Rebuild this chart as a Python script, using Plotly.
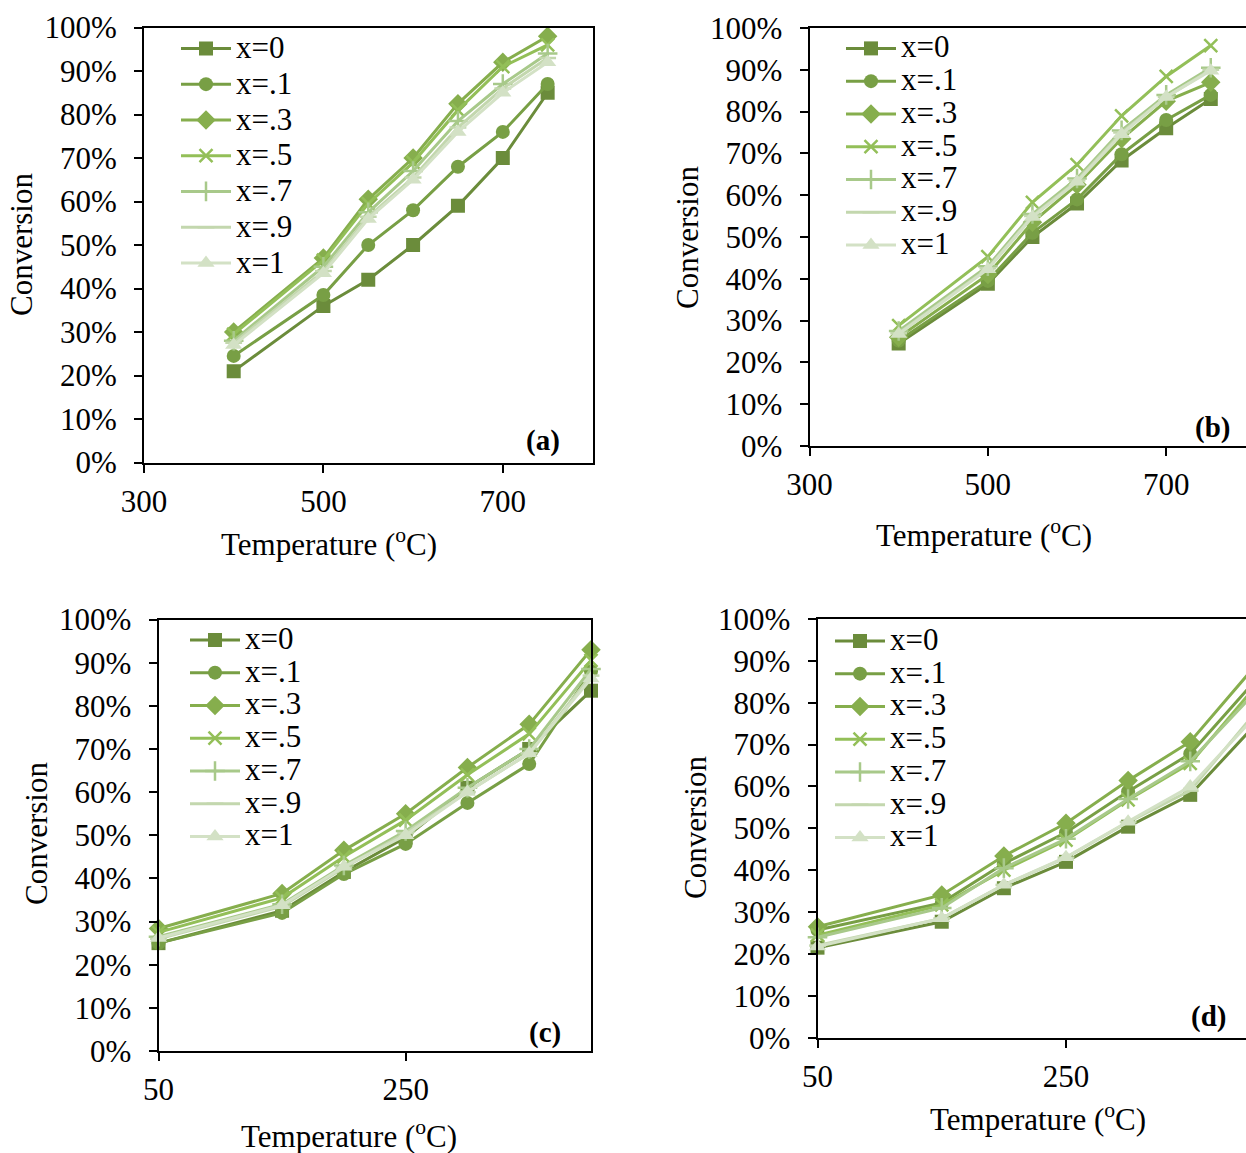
import plotly.graph_objects as go

# Canvas size in pixels
W, H = 1246, 1153

# Series (catalyst composition x)
series_names = ["x=0", "x=.1", "x=.3", "x=.5", "x=.7", "x=.9", "x=1"]
colors = ["#6B8C3B", "#789F45", "#86AE4D", "#93BF58", "#A8C98A", "#C3D7AE", "#D3E1C5"]
symbols = ["square", "circle", "diamond", "x-thin", "cross-thin", "line-ew", "triangle-up"]
marker_sizes = [14, 14, 15, 13, 14, 12, 15]

# Temperatures (°C)
temp_ab = [400, 500, 550, 600, 650, 700, 750]
temp_cd = [50, 150, 200, 250, 300, 350, 400]

# Conversion (%) for each panel, one row per series
conv_a = [
    [21, 36, 42, 50, 59, 70, 85],
    [24.5, 38.5, 50, 58, 68, 76, 87],
    [30, 47, 60.5, 70, 82.5, 92, 98],
    [29.5, 46.5, 59.5, 69, 81, 91, 96],
    [28, 45, 57.5, 67, 78.5, 87, 94],
    [27.5, 44, 56.5, 65.5, 77, 86, 93],
    [27, 43.5, 56, 65, 76, 85, 92],
]
conv_b = [
    [24.5, 38.8, 50, 58, 68.3, 76, 83],
    [25.2, 39.5, 51, 59, 69.8, 78, 84],
    [26, 41, 53.5, 62.5, 73.5, 82.5, 87],
    [28.8, 45.3, 58.3, 67.3, 79, 88.4, 95.8],
    [27.5, 43, 55.5, 64, 75.5, 84, 90.5],
    [27, 42.5, 55, 63.5, 75, 83.5, 90],
    [26.8, 42.3, 54.8, 63.2, 74.6, 83.5, 89.8],
]
conv_c = [
    [25, 32.5, 41.5, 49.5, 61, 70, 83.5],
    [25, 32, 41, 48, 57.5, 66.5, 88],
    [28.4, 36.5, 46.5, 55, 65.7, 75.7, 93],
    [27.5, 35.5, 45, 53.5, 64, 73.5, 90.5],
    [26.5, 34, 43, 51, 61, 70, 88.5],
    [26, 33.5, 42.5, 50.5, 60, 69, 87],
    [26.2, 33.8, 42.7, 50, 60, 69, 86.3],
]
conv_d = [
    [21.5, 27.7, 35.7, 42, 50.4, 58, 74],
    [25.7, 32.2, 41.6, 49, 58.8, 67.8, 84.5],
    [26.5, 34.1, 43.4, 51.2, 61.4, 70.7, 88],
    [24.5, 31.7, 40, 47.2, 56.8, 65.5, 83],
    [24, 31, 40.5, 47.5, 57, 66, 81.8],
    [22, 28.5, 36.5, 43, 51.5, 59, 76.8],
    [21.8, 28.5, 36.5, 43.1, 51.6, 60, 76],
]

# Axis ranges and ticks
xrange_a, xticks_a = [300, 800], [300, 500, 700]
xrange_b, xticks_b = [300, 789.5], [300, 500, 700]
xrange_c, xticks_c = [50, 400], [50, 250]
xrange_d, xticks_d = [50, 394.9], [50, 250]

FONT = "Liberation Serif, Times New Roman, serif"
FS = 31


def px_x(a, b):
    return [a / W, b / W]


def px_y(top, bottom):
    return [1 - bottom / H, 1 - top / H]


# (tag, x data, y rows, x range, x ticks, x domain px, y domain px, right border, legend pos, legend fs)
panels = [
    ("a", temp_ab, conv_a, xrange_a, xticks_a, (144, 592.5), (27.5, 462.5), True, (176, 25.5), 25.2),
    ("b", temp_ab, conv_b, xrange_b, xticks_b, (809.5, 1246), (28, 446), False, (841, 27), 22.9),
    ("c", temp_cd, conv_c, xrange_c, xticks_c, (158.5, 591), (619.5, 1051), True, (185, 618.5), 22.9),
    ("d", temp_cd, conv_d, xrange_d, xticks_d, (817.5, 1246), (619, 1037.7), False, (830, 619.5), 22.9),
]

fig = go.Figure()
layout = dict(
    width=W, height=H,
    margin=dict(l=0, r=0, t=0, b=0, autoexpand=False),
    paper_bgcolor="white", plot_bgcolor="white",
    font=dict(family=FONT, size=FS, color="black"),
)

for i, (tag, xs, rows, xr, xt, xdom, ydom, right, lpos, lfs) in enumerate(panels):
    n = "" if i == 0 else str(i + 1)
    legend_id = "legend" + n
    for s, name in enumerate(series_names):
        fig.add_trace(go.Scatter(
            x=xs, y=rows[s], name='<span style="font-size:%dpx">%s</span>' % (FS, name),
            mode="lines+markers",
            line=dict(color=colors[s], width=3),
            marker=dict(symbol=symbols[s], size=marker_sizes[s], color=colors[s],
                        line=dict(color=colors[s], width=2.5 if s in (3, 4, 5) else 0)),
            xaxis="x" + n, yaxis="y" + n,
            legend=legend_id,
            cliponaxis=(tag in ("a", "b")),
        ))
    layout["xaxis" + n] = dict(
        domain=px_x(*xdom), range=xr, tickvals=xt, anchor="y" + n, automargin=False,
        showline=True, linecolor="black", linewidth=2, mirror=True,
        ticks="outside", ticklen=8, tickwidth=2, tickcolor="black",
        showgrid=False, zeroline=False, ticklabelstandoff=2,
        tickfont=dict(family=FONT, size=FS, color="black"),
    )
    layout["yaxis" + n] = dict(
        domain=px_y(*ydom), range=[0, 100], dtick=10, ticksuffix="%", anchor="x" + n,
        automargin=False,
        showline=True, linecolor="black", linewidth=2, mirror=right,
        ticks="outside", ticklen=8, tickwidth=2, tickcolor="black",
        showgrid=False, zeroline=False, ticklabelstandoff=11,
        tickfont=dict(family=FONT, size=FS, color="black"),
    )
    layout[legend_id] = dict(
        x=lpos[0] / W, y=1 - lpos[1] / H, xanchor="left", yanchor="top",
        bgcolor="rgba(0,0,0,0)", borderwidth=0, itemwidth=50,
        font=dict(family=FONT, size=lfs, color="black"),
        tracegroupgap=0,
    )

# Axis titles and panel tags
y_titles = [(22, 245), (687, 237), (36, 834), (695, 828)]
x_titles = [(329, 543), (984, 533), (349, 1134), (1038, 1117)]
tags = [("(a)", 543, 440), ("(b)", 1212, 427), ("(c)", 545, 1032), ("(d)", 1208, 1016)]
ann = []
for (x, y) in y_titles:
    ann.append(dict(text="Conversion", x=x / W, y=1 - y / H, xref="paper", yref="paper",
                    showarrow=False, textangle=-90, xanchor="center", yanchor="middle",
                    font=dict(family=FONT, size=FS, color="black")))
for (x, y) in x_titles:
    ann.append(dict(text="Temperature (<sup>o</sup>C)", x=x / W, y=1 - y / H, xref="paper", yref="paper",
                    showarrow=False, xanchor="center", yanchor="middle",
                    font=dict(family=FONT, size=FS, color="black")))
for (t, x, y) in tags:
    ann.append(dict(text="<b>%s</b>" % t, x=x / W, y=1 - y / H, xref="paper", yref="paper",
                    showarrow=False, xanchor="center", yanchor="middle",
                    font=dict(family=FONT, size=FS - 2, color="black")))
layout["annotations"] = ann

fig.update_layout(**layout)
fig.write_html("out.html")
